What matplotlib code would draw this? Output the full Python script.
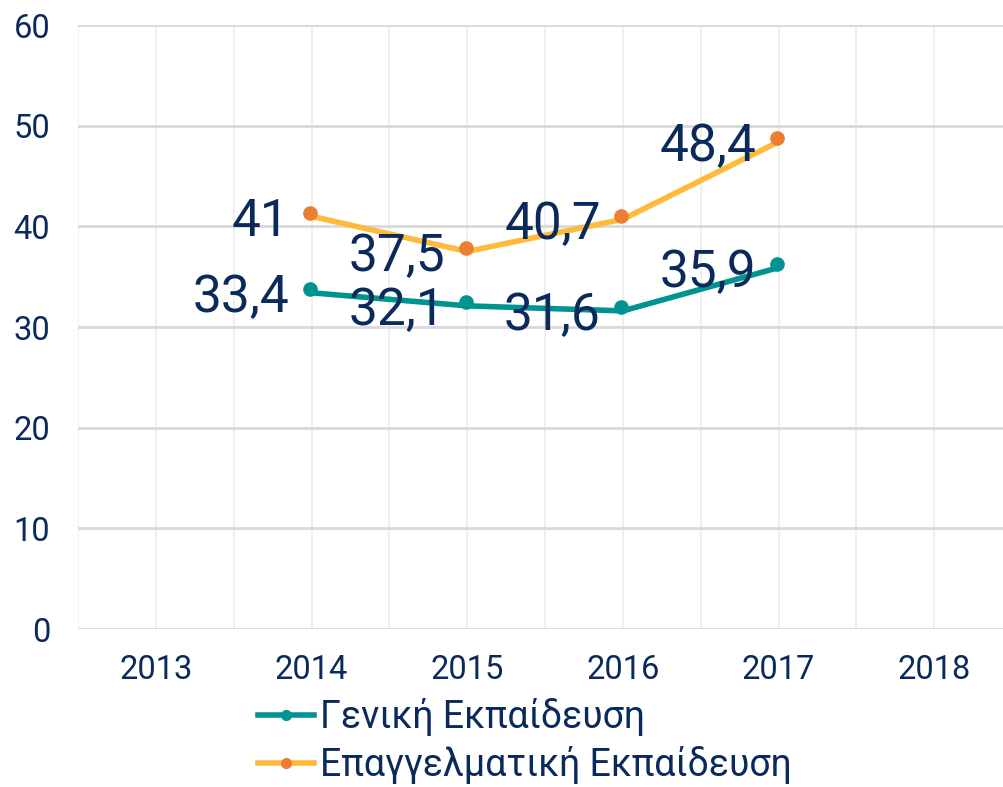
import matplotlib
matplotlib.use("Agg")
import matplotlib.pyplot as plt
import matplotlib.transforms as mtransforms
from matplotlib.lines import Line2D

years = [2014, 2015, 2016, 2017]
general = [33.4, 32.1, 31.6, 35.9]
vocational = [41.0, 37.5, 40.7, 48.4]
general_labels = ["33,4", "32,1", "31,6", "35,9"]
vocational_labels = ["41", "37,5", "40,7", "48,4"]
xticks = [2013, 2014, 2015, 2016, 2017, 2018]
yticks = [0, 10, 20, 30, 40, 50, 60]
series_names = ["Γενική Εκπαίδευση", "Επαγγελματική Εκπαίδευση"]

navy = "#0A2A5C"
green = "#009490"
yellow = "#FFB93B"
orange = "#ED7D31"

plt.rcParams['font.family'] = ['Roboto', 'DejaVu Sans']

W, H = 1004, 787
fig = plt.figure(figsize=(W / 100, H / 100), dpi=100)
ax = fig.add_axes([78 / W, 1 - 629 / H, 934 / W, 604 / H])
ax.set_xlim(2012.5, 2018.5)
ax.set_ylim(0, 60)

# grid
for x in [2012.5 + 0.5 * i for i in range(13)]:
    ax.axvline(x, color="#ECECEC", lw=1.2, zorder=0)
for y in yticks:
    ax.axhline(y, color="#D9D9D9", lw=2.0, zorder=0.5)

for s in ax.spines.values():
    s.set_visible(False)

ax.set_xticks(xticks)
ax.set_xticklabels([str(x) for x in xticks])
ax.set_yticks(yticks)
ax.tick_params(axis='both', length=0, labelsize=23.5, labelcolor=navy)
ax.tick_params(axis='x', pad=18)
ax.tick_params(axis='y', pad=20)

mk_off = mtransforms.offset_copy(ax.transData, fig=fig, x=-1.5, y=3.5, units='dots')

ax.plot(years, general, color=green, lw=4, solid_capstyle='round', zorder=3)
ax.plot(years, general, ls='none', marker='o', ms=9.5, color=green, transform=mk_off, zorder=4)
ax.plot(years, vocational, color=yellow, lw=4, solid_capstyle='round', zorder=3)
ax.plot(years, vocational, ls='none', marker='o', ms=9.5, color=orange, transform=mk_off, zorder=4)

for x, y, t in zip(years, general, general_labels):
    ax.annotate(t, (x, y), xytext=(-22, 0), textcoords='offset pixels', ha='right',
                va='center_baseline', fontsize=37, color=navy, zorder=5)
for x, y, t in zip(years, vocational, vocational_labels):
    ax.annotate(t, (x, y), xytext=(-22, 0), textcoords='offset pixels', ha='right',
                va='center_baseline', fontsize=37, color=navy, zorder=5)

h1 = Line2D([], [], color=green, lw=4, marker='o', ms=7, markerfacecolor=green, markeredgecolor=green)
h2 = Line2D([], [], color=yellow, lw=4, marker='o', ms=7, markerfacecolor=orange, markeredgecolor=orange)
leg = fig.legend([h1, h2], series_names, loc='upper left',
                 bbox_to_anchor=(258 / W, 1 - 698 / H), frameon=False,
                 fontsize=27, handlelength=1.5, handletextpad=0.15,
                 labelspacing=0.28, borderpad=0, borderaxespad=0)
for t in leg.get_texts():
    t.set_color(navy)

fig.savefig("out.png", dpi=100)
